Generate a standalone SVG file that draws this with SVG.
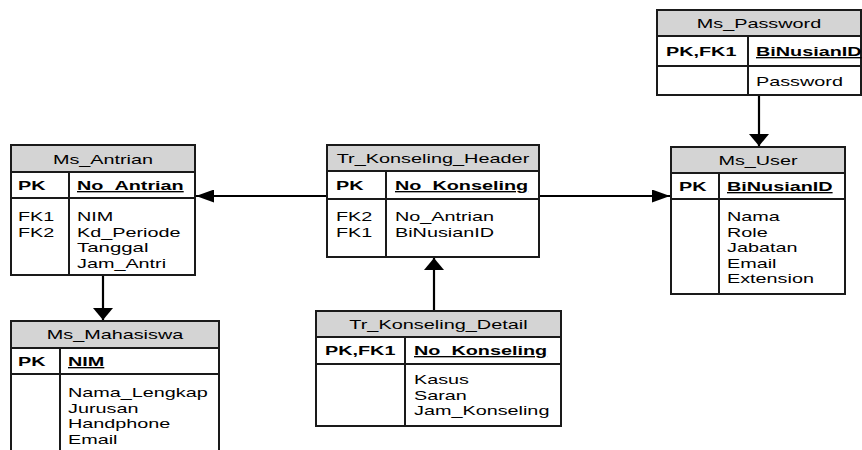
<svg xmlns="http://www.w3.org/2000/svg" width="862" height="450" viewBox="0 0 862 450">
<style>
  .box { fill: #ffffff; stroke: #1a1a1a; stroke-width: 2; }
  .hdr { fill: #d4d4d4; stroke: #1a1a1a; stroke-width: 2; }
  .ln { stroke: #1a1a1a; stroke-width: 2; fill: none; }
  .con { stroke: #000000; stroke-width: 2.2; fill: none; }
  text { font-family: "Liberation Sans", Arial, sans-serif; font-size: 13.5px; fill: #000000; }
  .t { text-anchor: middle; }
  .b { font-weight: bold; }
  .u { font-weight: bold; text-decoration: underline; }
</style>
<defs>
  <marker id="arrH" markerUnits="userSpaceOnUse" markerWidth="18" markerHeight="13" viewBox="0 0 18 13" refX="18" refY="6.5" orient="auto">
    <path d="M0,0 L18,6.5 L0,13 Z" fill="#000"/>
  </marker>
  <marker id="arrV" markerUnits="userSpaceOnUse" markerWidth="12" markerHeight="20" viewBox="0 0 12 20" refX="12" refY="10" orient="auto">
    <path d="M0,0 L12,10 L0,20 Z" fill="#000"/>
  </marker>
</defs>

<g id="connectors">
  <line class="con" x1="327" y1="196" x2="196" y2="196" marker-end="url(#arrH)"/>
  <line class="con" x1="539" y1="196" x2="670" y2="196" marker-end="url(#arrH)"/>
  <line class="con" x1="434" y1="311" x2="434" y2="258" marker-end="url(#arrV)"/>
  <line class="con" x1="759" y1="95" x2="759" y2="146" marker-end="url(#arrV)"/>
  <line class="con" x1="103" y1="275" x2="103" y2="320" marker-end="url(#arrV)"/>
</g>

<g id="Ms_Password">
  <rect class="box" x="657" y="10" width="204" height="85"/>
  <rect class="hdr" x="657" y="10" width="204" height="26"/>
  <line class="ln" x1="657" y1="66" x2="861" y2="66"/>
  <line class="ln" x1="748" y1="36" x2="748" y2="95"/>
  <text class="t" x="759" y="28" textLength="124.3" lengthAdjust="spacingAndGlyphs">Ms_Password</text>
  <text class="b" x="666" y="56" textLength="70.4" lengthAdjust="spacingAndGlyphs">PK,FK1</text>
  <text class="u" x="756" y="56" textLength="105.6" lengthAdjust="spacingAndGlyphs">BiNusianID</text>
  <text x="756" y="86" textLength="86.9" lengthAdjust="spacingAndGlyphs">Password</text>
</g>

<g id="Ms_User">
  <rect class="box" x="671" y="147" width="174" height="147"/>
  <rect class="hdr" x="671" y="147" width="174" height="26"/>
  <line class="ln" x1="671" y1="199" x2="845" y2="199"/>
  <line class="ln" x1="719" y1="173" x2="719" y2="294"/>
  <text class="t" x="758" y="165" textLength="79.2" lengthAdjust="spacingAndGlyphs">Ms_User</text>
  <text class="b" x="679" y="191" textLength="27.5" lengthAdjust="spacingAndGlyphs">PK</text>
  <text class="u" x="727" y="191" textLength="105.6" lengthAdjust="spacingAndGlyphs">BiNusianID</text>
  <text x="727" y="221" textLength="52.8" lengthAdjust="spacingAndGlyphs">Nama</text>
  <text x="727" y="236.5" textLength="40.7" lengthAdjust="spacingAndGlyphs">Role</text>
  <text x="727" y="252" textLength="70.4" lengthAdjust="spacingAndGlyphs">Jabatan</text>
  <text x="727" y="267.5" textLength="49.5" lengthAdjust="spacingAndGlyphs">Email</text>
  <text x="727" y="283" textLength="86.9" lengthAdjust="spacingAndGlyphs">Extension</text>
</g>

<g id="Tr_Konseling_Header">
  <rect class="box" x="327" y="145" width="212" height="112"/>
  <rect class="hdr" x="327" y="145" width="212" height="26"/>
  <line class="ln" x1="327" y1="199" x2="539" y2="199"/>
  <line class="ln" x1="386" y1="171" x2="386" y2="257"/>
  <text class="t" x="433" y="163" textLength="192.6" lengthAdjust="spacingAndGlyphs">Tr_Konseling_Header</text>
  <text class="b" x="336" y="190" textLength="27.5" lengthAdjust="spacingAndGlyphs">PK</text>
  <text class="u" x="395" y="190" textLength="133.1" lengthAdjust="spacingAndGlyphs">No_Konseling</text>
  <text x="336" y="221" textLength="36.3" lengthAdjust="spacingAndGlyphs">FK2</text>
  <text x="336" y="236.5" textLength="36.3" lengthAdjust="spacingAndGlyphs">FK1</text>
  <text x="395" y="221" textLength="99" lengthAdjust="spacingAndGlyphs">No_Antrian</text>
  <text x="395" y="236.5" textLength="99" lengthAdjust="spacingAndGlyphs">BiNusianID</text>
</g>

<g id="Ms_Antrian">
  <rect class="box" x="11" y="145" width="184" height="130"/>
  <rect class="hdr" x="11" y="145" width="184" height="27"/>
  <line class="ln" x1="11" y1="198" x2="195" y2="198"/>
  <line class="ln" x1="69" y1="172" x2="69" y2="275"/>
  <text class="t" x="103" y="163.5" textLength="100.1" lengthAdjust="spacingAndGlyphs">Ms_Antrian</text>
  <text class="b" x="18" y="190" textLength="27.5" lengthAdjust="spacingAndGlyphs">PK</text>
  <text class="u" x="77" y="190" textLength="106.7" lengthAdjust="spacingAndGlyphs">No_Antrian</text>
  <text x="18" y="221" textLength="36.3" lengthAdjust="spacingAndGlyphs">FK1</text>
  <text x="18" y="236.5" textLength="36.3" lengthAdjust="spacingAndGlyphs">FK2</text>
  <text x="77" y="221" textLength="36.3" lengthAdjust="spacingAndGlyphs">NIM</text>
  <text x="77" y="236.5" textLength="103.5" lengthAdjust="spacingAndGlyphs">Kd_Periode</text>
  <text x="77" y="252" textLength="71.5" lengthAdjust="spacingAndGlyphs">Tanggal</text>
  <text x="77" y="267.5" textLength="89.1" lengthAdjust="spacingAndGlyphs">Jam_Antri</text>
</g>

<g id="Ms_Mahasiswa">
  <rect class="box" x="11" y="321" width="208" height="135"/>
  <rect class="hdr" x="11" y="321" width="208" height="27"/>
  <line class="ln" x1="11" y1="374" x2="219" y2="374"/>
  <line class="ln" x1="60" y1="348" x2="60" y2="456"/>
  <text class="t" x="115" y="339" textLength="136.4" lengthAdjust="spacingAndGlyphs">Ms_Mahasiswa</text>
  <text class="b" x="18" y="366" textLength="27.5" lengthAdjust="spacingAndGlyphs">PK</text>
  <text class="u" x="68" y="366" textLength="36.3" lengthAdjust="spacingAndGlyphs">NIM</text>
  <text x="68" y="397" textLength="139.8" lengthAdjust="spacingAndGlyphs">Nama_Lengkap</text>
  <text x="68" y="412.5" textLength="70.4" lengthAdjust="spacingAndGlyphs">Jurusan</text>
  <text x="68" y="428" textLength="102.4" lengthAdjust="spacingAndGlyphs">Handphone</text>
  <text x="68" y="443.5" textLength="49.5" lengthAdjust="spacingAndGlyphs">Email</text>
</g>

<g id="Tr_Konseling_Detail">
  <rect class="box" x="316" y="311" width="245" height="115"/>
  <rect class="hdr" x="316" y="311" width="245" height="26"/>
  <line class="ln" x1="316" y1="364" x2="561" y2="364"/>
  <line class="ln" x1="405" y1="337" x2="405" y2="426"/>
  <text class="t" x="438.5" y="329" textLength="178.3" lengthAdjust="spacingAndGlyphs">Tr_Konseling_Detail</text>
  <text class="b" x="325" y="355" textLength="70.4" lengthAdjust="spacingAndGlyphs">PK,FK1</text>
  <text class="u" x="414" y="355" textLength="133.1" lengthAdjust="spacingAndGlyphs">No_Konseling</text>
  <text x="414" y="384" textLength="55" lengthAdjust="spacingAndGlyphs">Kasus</text>
  <text x="414" y="399.5" textLength="52.8" lengthAdjust="spacingAndGlyphs">Saran</text>
  <text x="414" y="415" textLength="135.4" lengthAdjust="spacingAndGlyphs">Jam_Konseling</text>
</g>
</svg>
